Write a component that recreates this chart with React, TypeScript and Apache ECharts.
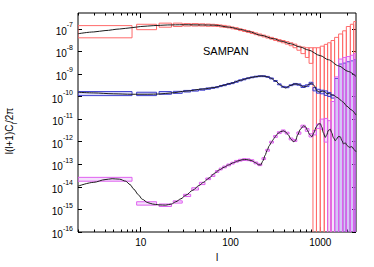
import React, { useEffect, useRef } from 'react';
import * as echarts from 'echarts';

const FONT = '"Liberation Sans", Arial, Helvetica, sans-serif';

// ---- theory curves: multipole l and log10 of l(l+1)C_l/2π ----
const topL = [2, 3, 4, 5.8, 8, 10, 14, 20, 30, 49, 67, 98, 130, 158, 220, 300, 372, 462, 600, 735, 1000, 1230, 1600, 2050, 2500];
const topExp = [-7.22, -7.14, -7.08, -7.01, -6.95, -6.9, -6.86, -6.83, -6.82, -6.83, -6.84, -6.93, -7.03, -7.12, -7.29, -7.44, -7.55, -7.66, -7.81, -7.94, -8.19, -8.37, -8.64, -8.89, -9.11];

const ttL = [2, 3, 5, 8, 12, 16, 22, 32, 49, 67, 80, 100, 130, 160, 190, 220, 250, 280, 320, 360, 410, 460, 510, 550, 600, 650, 690, 740, 800, 850, 920, 980, 1050, 1120, 1190, 1260, 1350, 1430, 1500, 1580, 1670, 1800, 1980, 2200, 2500];
const ttExp = [-9.81, -9.84, -9.88, -9.9, -9.9, -9.89, -9.84, -9.76, -9.67, -9.6, -9.52, -9.42, -9.28, -9.18, -9.12, -9.09, -9.11, -9.18, -9.32, -9.5, -9.62, -9.52, -9.45, -9.44, -9.5, -9.57, -9.56, -9.47, -9.41, -9.5, -9.75, -9.8, -9.76, -9.78, -9.88, -9.86, -9.93, -9.95, -10.02, -10.06, -10.15, -10.25, -10.43, -10.58, -10.82];

const eeL = [2, 3, 4, 4.8, 5.8, 6.8, 7.6, 8.4, 9.4, 10.4, 12, 13.5, 16, 19, 22, 24.6, 28, 31.8, 38, 44.6, 50, 57.6, 67, 75, 85, 95, 108, 120, 135, 150, 170, 190, 205, 217, 230, 243, 256, 270, 286, 302, 320, 340, 365, 389, 415, 440, 470, 500, 530, 560, 600, 651, 690, 720, 760, 808, 850, 900, 950, 1000, 1040, 1080, 1137, 1180, 1230, 1293, 1340, 1400, 1470, 1520, 1580, 1670, 1740, 1820, 1900, 1980, 2100, 2250, 2380, 2500];
const eeExp = [-13.97, -13.8, -13.68, -13.64, -13.66, -13.75, -13.9, -14.11, -14.35, -14.55, -14.7, -14.76, -14.8, -14.81, -14.76, -14.66, -14.53, -14.37, -14.15, -13.94, -13.8, -13.61, -13.39, -13.25, -13.13, -13.03, -12.93, -12.86, -12.8, -12.79, -12.83, -12.93, -13.02, -13.03, -12.85, -12.6, -12.38, -12.18, -12.02, -11.88, -11.74, -11.62, -11.55, -11.52, -11.58, -11.7, -11.88, -12.0, -11.95, -11.7, -11.45, -11.3, -11.35, -11.5, -11.68, -11.78, -11.6, -11.35, -11.22, -11.2, -11.35, -11.6, -11.81, -11.7, -11.5, -11.45, -11.6, -11.82, -11.96, -11.88, -11.78, -11.78, -11.95, -12.1, -12.05, -12.16, -12.25, -12.22, -12.35, -12.45];

// ---- binned band powers (bin range in l, log10 of lower / upper error edge) ----
const binLo = [2, 9, 16, 23, 30, 37, 45, 53, 61, 68, 75, 82, 91, 101, 111, 123, 136, 150, 166, 183, 202, 224, 247, 273, 302, 333, 368, 407, 450, 497, 549, 609, 681, 750, 829, 907, 1000, 1108, 1207, 1317, 1444, 1600, 1775, 1951, 2163, 2357];
const binHi = [8, 15, 22, 29, 36, 44, 52, 60, 67, 74, 81, 90, 100, 110, 122, 135, 149, 165, 182, 201, 223, 246, 272, 301, 332, 367, 406, 449, 496, 548, 608, 680, 749, 828, 906, 999, 1107, 1206, 1316, 1443, 1599, 1774, 1950, 2162, 2356, 2500];
const F = -17; // error bar reaching below the plot floor

const redLo = [-7.4, -7.04, -6.93, -6.9, -6.88, -6.88, -6.88, -6.89, -6.89, -6.9, -6.92, -6.94, -6.96, -7.0, -7.03, -7.08, -7.12, -7.16, -7.21, -7.26, -7.31, -7.36, -7.41, -7.46, -7.52, -7.57, -7.62, -7.68, -7.75, -7.84, -7.95, -8.1, -8.27, -8.53, F, F, F, F, F, F, F, F, F, F, F, F];
const redHi = [-6.86, -6.8, -6.75, -6.75, -6.77, -6.77, -6.78, -6.79, -6.8, -6.81, -6.83, -6.85, -6.88, -6.92, -6.95, -7.0, -7.04, -7.08, -7.13, -7.18, -7.23, -7.28, -7.33, -7.38, -7.43, -7.48, -7.52, -7.57, -7.62, -7.68, -7.77, -7.81, -7.84, -7.84, -7.84, -7.84, -7.77, -7.69, -7.62, -7.52, -7.38, -7.23, -7.09, -6.9, -6.8, -6.68];

const blueLo = [-9.96, -9.96, -9.9, -9.86, -9.8, -9.76, -9.72, -9.68, -9.64, -9.61, -9.56, -9.52, -9.47, -9.43, -9.37, -9.31, -9.26, -9.21, -9.17, -9.14, -9.12, -9.12, -9.15, -9.22, -9.33, -9.48, -9.59, -9.61, -9.52, -9.48, -9.5, -9.6, -9.56, -9.46, -9.75, -9.85, -9.88, -9.95, -10.0, -10.07, F, F, F, F, F, F];
const blueHi = [-9.78, -9.81, -9.78, -9.77, -9.73, -9.7, -9.66, -9.62, -9.59, -9.56, -9.51, -9.47, -9.42, -9.38, -9.32, -9.26, -9.21, -9.17, -9.13, -9.1, -9.08, -9.08, -9.11, -9.18, -9.29, -9.44, -9.55, -9.57, -9.48, -9.42, -9.44, -9.52, -9.48, -9.37, -9.6, -9.68, -9.72, -9.75, -9.82, -9.93, -9.2, -8.56, -8.52, -8.46, -8.42, -8.37];

const magLo = [-13.75, -14.81, -14.87, -14.72, -14.43, -14.14, -13.9, -13.68, -13.54, -13.36, -13.25, -13.16, -13.07, -12.99, -12.91, -12.86, -12.83, -12.84, -12.88, -12.98, -13.06, -12.79, -12.42, -12.06, -11.81, -11.64, -11.56, -11.66, -11.92, -11.99, -11.67, -11.37, -11.54, -11.79, -11.7, -11.42, -11.45, -12.02, F, F, F, F, F, F, F, F];
const magHi = [-13.58, -14.66, -14.76, -14.62, -14.33, -14.04, -13.8, -13.61, -13.46, -13.28, -13.17, -13.08, -12.99, -12.91, -12.83, -12.78, -12.75, -12.76, -12.8, -12.9, -12.98, -12.71, -12.34, -11.98, -11.73, -11.56, -11.48, -11.58, -11.84, -11.91, -11.57, -11.27, -11.42, -11.65, -11.5, -11.22, -11.0, -10.97, -11.07, -10.22, -9.13, -8.34, -8.27, -8.23, -8.17, -8.1];

// ---- axes ----
const X_MIN = 2;
const X_MAX = 2500;
const Y_MIN = 1e-16;
const Y_MAX = 5e-7;
const xMajor = [10, 100, 1000];
const xMinor = [2, 3, 4, 5, 6, 7, 8, 9, 20, 30, 40, 50, 60, 70, 80, 90, 200, 300, 400, 500, 600, 700, 800, 900, 2000];
const yMajorExp = [-16, -15, -14, -13, -12, -11, -10, -9, -8, -7];
const yMajor = yMajorExp.map((e) => Math.pow(10, e));

const curve = (ls: number[], es: number[]) => ls.map((l, i) => [l, Math.pow(10, es[i])]);
const boxes = (lo: number[], hi: number[]) =>
  binLo.map((l, i) => [l, binHi[i], Math.pow(10, lo[i]), Math.pow(10, hi[i])]);

const boxSeries = (name: string, data: number[][], stroke: string, fill: string) => ({
  type: 'custom',
  name,
  data,
  clip: true,
  xAxisIndex: 0,
  yAxisIndex: 0,
  z: 2,
  silent: true,
  encode: { x: [0, 1], y: [2, 3] },
  renderItem: (_params: any, api: any) => {
    const a = api.coord([api.value(0), api.value(3)]);
    const b = api.coord([api.value(1), api.value(2)]);
    return {
      type: 'rect',
      shape: { x: a[0], y: a[1], width: b[0] - a[0], height: b[1] - a[1] },
      style: { fill, stroke, lineWidth: 1 },
    };
  },
});

const lineSeries = (name: string, data: number[][]) => ({
  type: 'line',
  name,
  data,
  showSymbol: false,
  smooth: 0.3,
  smoothMonotone: 'x',
  silent: true,
  z: 5,
  xAxisIndex: 0,
  yAxisIndex: 0,
  lineStyle: { color: '#1c1c1c', width: 1 },
});

export default function App() {
  const ref = useRef<HTMLDivElement>(null);
  useEffect(() => {
    if (!ref.current) return;
    const chart = echarts.init(ref.current, undefined, { renderer: 'svg' });
    const tickStyle = { color: '#000', width: 1 };
    const xBase = {
      type: 'log',
      logBase: 10,
      min: X_MIN,
      max: X_MAX,
      splitLine: { show: false },
      minorTick: { show: false },
      axisLine: { show: false, onZero: false },
    };
    const yBase = {
      type: 'log',
      logBase: 10,
      min: Y_MIN,
      max: Y_MAX,
      splitLine: { show: false },
      minorTick: { show: false },
      axisLine: { show: false, onZero: false },
    };
    chart.setOption({
      animation: false,
      backgroundColor: '#fff',
      grid: { left: 78, right: 18, top: 13, bottom: 31, show: true, borderColor: '#000', borderWidth: 1, backgroundColor: 'transparent' },
      xAxis: [
        {
          ...xBase,
          position: 'bottom',
          axisTick: { show: true, inside: true, length: 5, customValues: xMajor, lineStyle: tickStyle },
          axisLabel: { customValues: xMajor, margin: 5, fontSize: 10, color: '#000', fontFamily: FONT, formatter: (v: number) => String(Math.round(v)) },
          name: 'l',
          nameLocation: 'middle',
          nameGap: 20,
          nameTextStyle: { fontSize: 10, color: '#000', fontFamily: FONT },
        },
        { ...xBase, position: 'bottom', axisTick: { show: true, inside: true, length: 2.5, customValues: xMinor, lineStyle: tickStyle }, axisLabel: { show: false } },
        { ...xBase, position: 'top', axisTick: { show: true, inside: true, length: 5, customValues: xMajor, lineStyle: tickStyle }, axisLabel: { show: false } },
        { ...xBase, position: 'top', axisTick: { show: true, inside: true, length: 2.5, customValues: xMinor, lineStyle: tickStyle }, axisLabel: { show: false } },
      ],
      yAxis: [
        {
          ...yBase,
          position: 'left',
          axisTick: { show: true, inside: true, length: 4, customValues: yMajor, lineStyle: tickStyle },
          axisLabel: {
            customValues: yMajor,
            margin: 5,
            color: '#000',
            formatter: (v: number) => `{b|10}{s|${Math.round(Math.log10(v))}}`,
            rich: {
              b: { fontSize: 10, fontFamily: FONT, color: '#000', lineHeight: 15, verticalAlign: 'bottom' },
              s: { fontSize: 7, fontFamily: FONT, color: '#000', verticalAlign: 'top' },
            },
          },
        },
        { ...yBase, position: 'right', axisTick: { show: true, inside: true, length: 4, customValues: yMajor, lineStyle: tickStyle }, axisLabel: { show: false } },
      ],
      graphic: [
        {
          type: 'text',
          left: 203,
          top: 45,
          style: { text: 'SAMPAN', fontSize: 11, fontFamily: FONT, fill: '#000' },
        },
        {
          type: 'text',
          x: 11,
          y: 131,
          rotation: Math.PI / 2,
          style: {
            text: '{a|l(l+1)C}{s|l}{a|/2π}',
            align: 'center',
            verticalAlign: 'middle',
            rich: {
              a: { fontSize: 10, fontFamily: FONT, fill: '#000', lineHeight: 14, verticalAlign: 'top' },
              s: { fontSize: 7, fontFamily: FONT, fill: '#000', verticalAlign: 'bottom' },
            },
          },
        },
      ],
      series: [
        boxSeries('red', boxes(redLo, redHi), '#ff6a6a', 'rgba(255,255,255,0)'),
        boxSeries('blue', boxes(blueLo, blueHi), '#4040d0', 'rgba(120,120,235,0.28)'),
        boxSeries('magenta', boxes(magLo, magHi), '#e060f0', 'rgba(205,120,235,0.22)'),
        lineSeries('top', curve(topL, topExp)),
        lineSeries('tt', curve(ttL, ttExp)),
        lineSeries('ee', curve(eeL, eeExp)),
      ],
    });
    return () => chart.dispose();
  }, []);
  return <div ref={ref} style={{ position: 'fixed', left: 0, top: 0, width: 374, height: 267 }} />;
}
